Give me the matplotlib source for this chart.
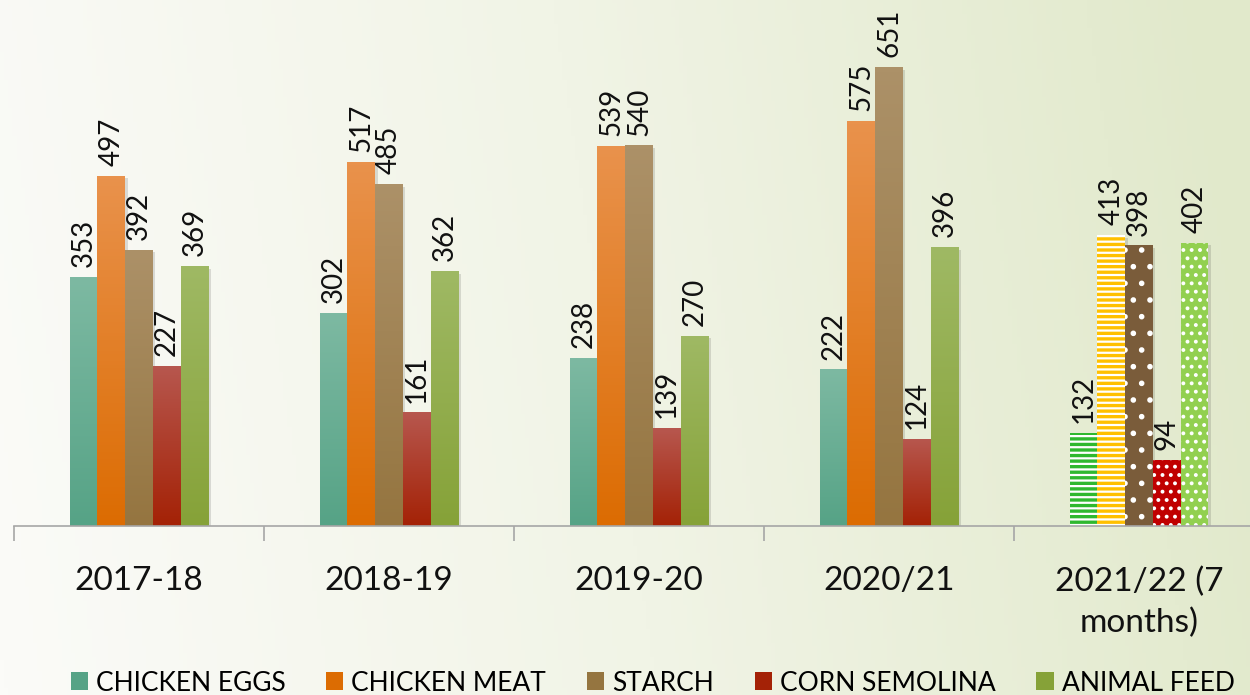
import numpy as np
import matplotlib.pyplot as plt
from matplotlib.colors import LinearSegmentedColormap
from matplotlib.patches import Patch

plt.rcParams['font.family'] = ['Lato', 'DejaVu Sans']
plt.rcParams['hatch.linewidth'] = 1.6

# data
years = ['2017-18', '2018-19', '2019-20', '2020/21', '2021/22 (7\nmonths)']
series = ['CHICKEN EGGS', 'CHICKEN MEAT', 'STARCH', 'CORN SEMOLINA', 'ANIMAL FEED']
eggs = [353, 302, 238, 222, 132]
meat = [497, 517, 539, 575, 413]
starch = [392, 485, 540, 651, 398]
corn = [227, 161, 139, 124, 94]
feed = [369, 362, 270, 396, 402]
values = [eggs, meat, starch, corn, feed]

# gradient colours (top, bottom) for the normal bars
grad = [('#7db9a2', '#56a386'),
        ('#e9924c', '#dc6c02'),
        ('#ac9168', '#957540'),
        ('#b7574e', '#a42206'),
        ('#9fb964', '#86a238')]
# solid + hatch for the last (partial year) group
last_fc = ['#2fb82f', '#ffc000', '#7a5c3a', '#c00000', '#92d050']
last_hatch = ['---', '---', '.', '..', '..']

W, H = 1250, 695
fig = plt.figure(figsize=(W / 100, H / 100), dpi=100)

# background gradient
bg = fig.add_axes([0, 0, 1, 1], zorder=-10)
gx = np.linspace(0, 1, 300)
gy = np.linspace(0, 1, 200)
GX, GY = np.meshgrid(gx, gy)
t = np.clip(0.95 * GX + 0.08 * (1 - GY), 0, 1)
bg_cmap = LinearSegmentedColormap.from_list('bg', ['#fbfbf8', '#f1f4e6', '#e1e9cb'])
bg.imshow(t, cmap=bg_cmap, aspect='auto', extent=[0, 1, 0, 1], origin='upper')
bg.axis('off')

base = 526
ppu = 0.705
ymax = 700
ax = fig.add_axes([14 / W, 1 - base / H, 1 - 14 / W, ymax * ppu / H])
ax.patch.set_alpha(0)

bw = 0.111
x = np.arange(len(years))
for i, vals in enumerate(values):
    off = (i - 2) * bw
    for j, v in enumerate(vals):
        xc = x[j] + off
        # drop shadow
        ax.bar(xc + 0.01, v, bw, bottom=-4, color='#000000', alpha=0.12, zorder=1, linewidth=0)
        if j < 4:
            b = ax.bar(xc, v, bw, color='none', linewidth=0, zorder=2)[0]
            cm = LinearSegmentedColormap.from_list('g', [grad[i][1], grad[i][0]])
            img = ax.imshow(np.linspace(0, 1, 100).reshape(-1, 1), cmap=cm,
                            extent=[xc - bw / 2, xc + bw / 2, 0, v], origin='lower',
                            aspect='auto', zorder=2)
            img.set_clip_path(b)
        else:
            ax.bar(xc, v, bw, color=last_fc[i], edgecolor='white', linewidth=0,
                   hatch=last_hatch[i], zorder=2)
        ax.annotate(str(v), (xc, v), xytext=(0, 7), textcoords='offset points',
                    rotation=90, ha='center', va='bottom', fontsize=20,
                    color='#111111', annotation_clip=False)

ax.set_xlim(-0.5, (W - 14) / 250 - 0.5)
ax.set_ylim(0, ymax)

for s in ['top', 'right', 'left']:
    ax.spines[s].set_visible(False)
ax.spines['bottom'].set_color('#a6a6a6')
ax.spines['bottom'].set_linewidth(1.2)
ax.set_yticks([])
ax.set_xticks(x)
ax.set_xticklabels(years, fontsize=24, color='#111111', linespacing=1.45)
ax.tick_params(axis='x', which='major', length=0, pad=29)
ax.set_xticks(np.arange(len(years)) - 0.5, minor=True)
ax.tick_params(axis='x', which='minor', length=11, color='#a6a6a6', width=1.2)

handles = [Patch(facecolor=grad[i][1]) for i in range(5)]
fig.legend(handles, series, loc='lower center', bbox_to_anchor=(0.522, -0.035), ncol=5,
           frameon=False, fontsize=19, handlelength=0.65, handleheight=0.65,
           handletextpad=0.3, columnspacing=1.55)

fig.savefig('out.png', dpi=100)
